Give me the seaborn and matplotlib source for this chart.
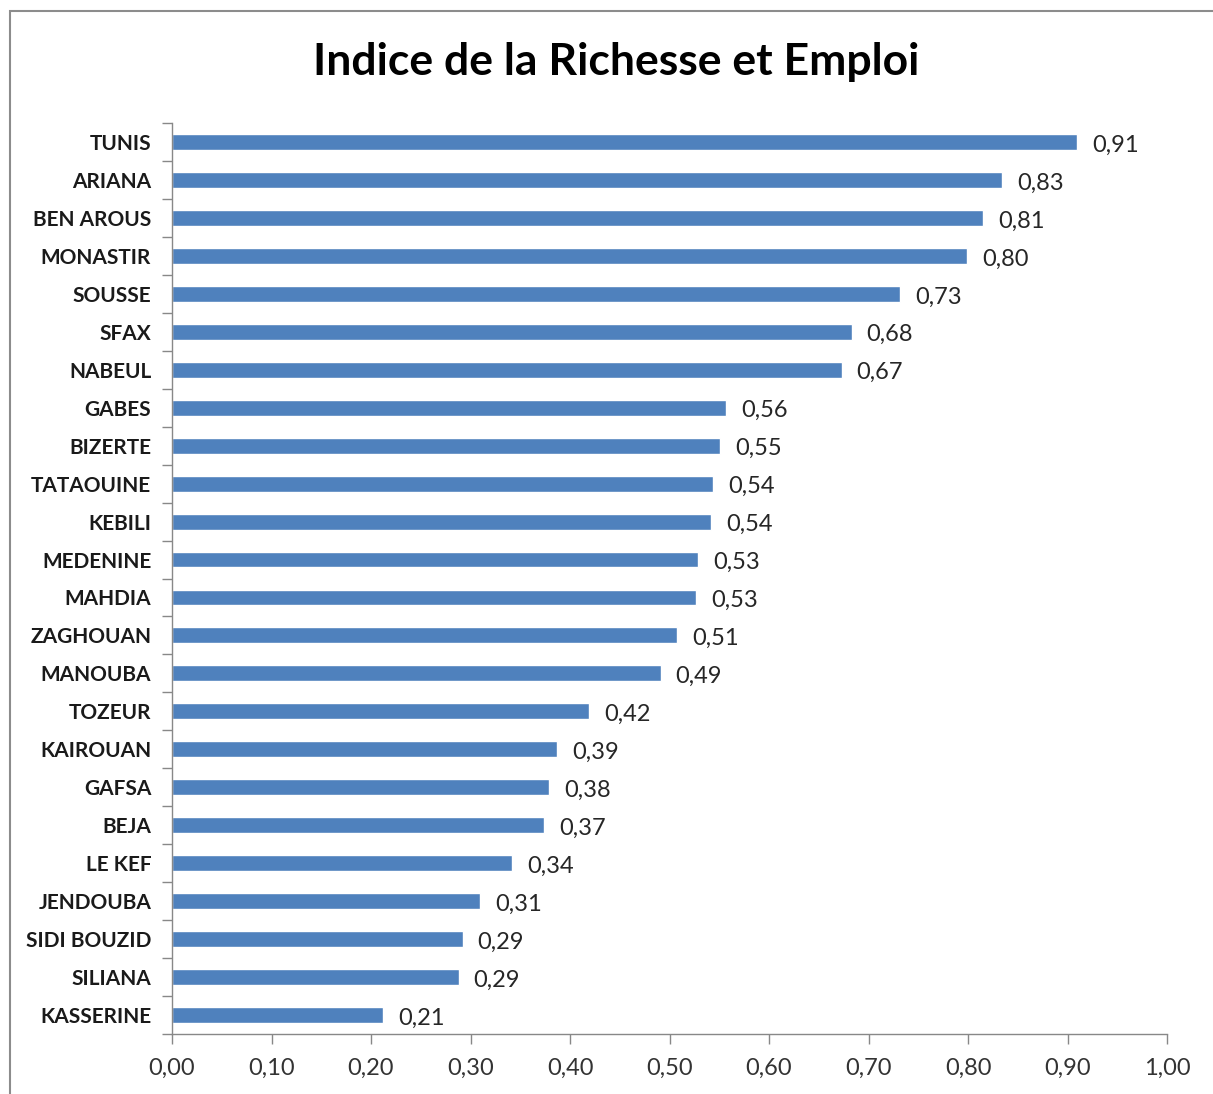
import matplotlib
matplotlib.use("Agg")
from matplotlib import pyplot as plt
from matplotlib.patches import Rectangle
from matplotlib.ticker import FixedLocator
import pandas as pd
import seaborn as sns

regions = ['TUNIS', 'ARIANA', 'BEN AROUS', 'MONASTIR', 'SOUSSE', 'SFAX', 'NABEUL',
           'GABES', 'BIZERTE', 'TATAOUINE', 'KEBILI', 'MEDENINE', 'MAHDIA', 'ZAGHOUAN',
           'MANOUBA', 'TOZEUR', 'KAIROUAN', 'GAFSA', 'BEJA', 'LE KEF', 'JENDOUBA',
           'SIDI BOUZID', 'SILIANA', 'KASSERINE']
indice = [0.910, 0.834, 0.815, 0.799, 0.732, 0.683, 0.673, 0.557, 0.551, 0.544,
          0.542, 0.529, 0.527, 0.508, 0.491, 0.419, 0.387, 0.379, 0.374, 0.342,
          0.310, 0.292, 0.288, 0.212]
xticks = [0.0, 0.1, 0.2, 0.3, 0.4, 0.5, 0.6, 0.7, 0.8, 0.9, 1.0]

df = pd.DataFrame({'region': regions, 'indice': indice})

sns.set_style("white")
plt.rcParams['font.family'] = ['Lato', 'DejaVu Sans']

fig = plt.figure(figsize=(12.13, 10.94), dpi=100)
ax = fig.add_axes([172 / 1213, 1 - 1034 / 1094, (1167 - 172) / 1213, (1034 - 123) / 1094])

sns.barplot(data=df, x='indice', y='region', color='#4F81BD', width=0.42,
            saturation=1, ax=ax)

for p, v in zip(ax.patches, indice):
    ax.text(p.get_width() + 0.015, p.get_y() + p.get_height() / 2 + 0.08,
            f"{v:.2f}".replace('.', ','), va='center', ha='left',
            fontsize=17, color='#262626')

ax.set_xlim(0, 1.0)
ax.set_ylim(len(regions) - 0.5, -0.5)
ax.set_xticks(xticks)
ax.set_xticklabels([f"{t:.2f}".replace('.', ',') for t in xticks], fontsize=17, color='#333333')
ax.tick_params(axis='x', length=7, width=1, color='#888888', pad=10, bottom=True)
ax.set_yticks(range(len(regions)))
ax.set_yticklabels(regions, fontsize=15, fontweight='bold', color='#1a1a1a')
ax.tick_params(axis='y', which='major', length=0, pad=15)
ax.yaxis.set_minor_locator(FixedLocator([i - 0.5 for i in range(len(regions) + 1)]))
ax.tick_params(axis='y', which='minor', length=7, width=1, color='#888888', left=True)
ax.set_xlabel('')
ax.set_ylabel('')

for s in ['top', 'right']:
    ax.spines[s].set_visible(False)
for s in ['left', 'bottom']:
    ax.spines[s].set_color('#888888')
    ax.spines[s].set_linewidth(1)

fig.text(616 / 1213, 1 - 62 / 1094, 'Indice de la Richesse et Emploi', ha='center', va='center',
         fontsize=32, fontweight='bold', color='black')

fig.patches.append(Rectangle((10 / 1213, -0.01), 1.02, 1 - 11 / 1094 + 0.01,
                             transform=fig.transFigure, fill=False,
                             edgecolor='#8c8c8c', linewidth=1.5))

fig.savefig('out.png', dpi=100)
